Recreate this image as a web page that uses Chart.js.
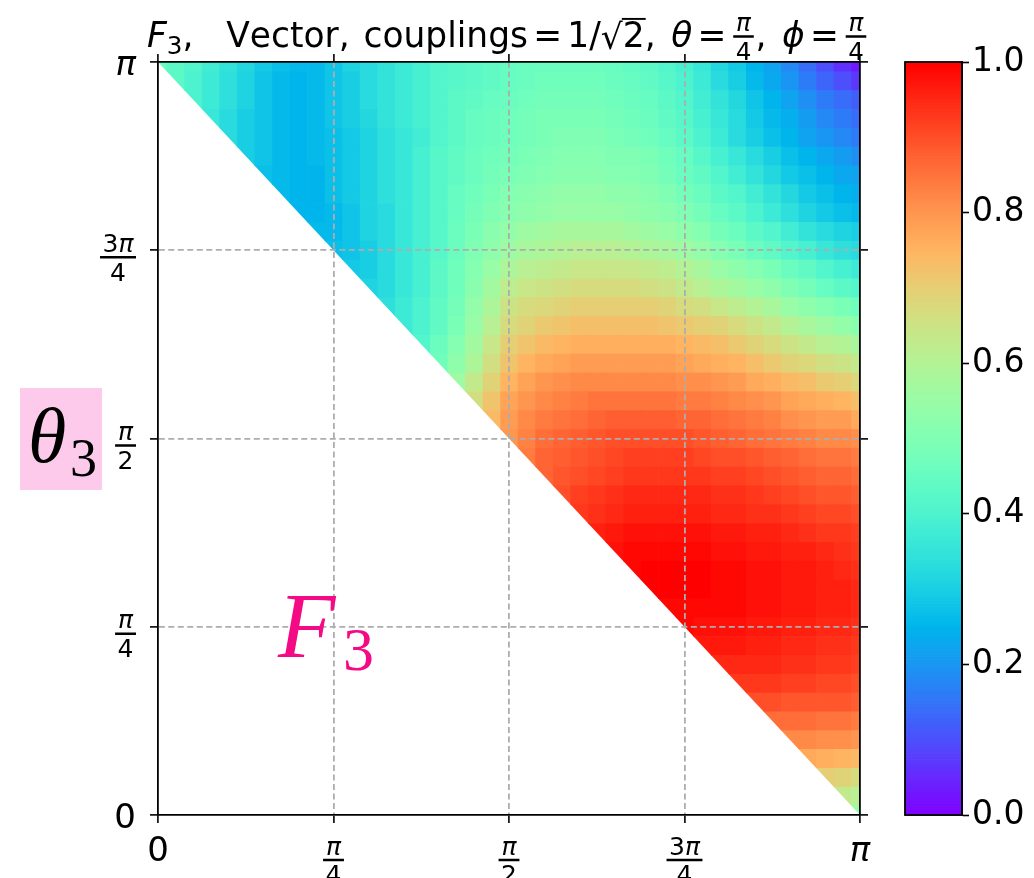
<!DOCTYPE html>
<html>
<head>
<meta charset="utf-8">
<script src="https://cdn.jsdelivr.net/npm/chart.js@4.4.1/dist/chart.umd.min.js"></script>
<style>
  html, body { margin: 0; padding: 0; background: #ffffff; }
  #wrap { position: relative; width: 1034px; height: 878px; overflow: hidden; background: #fff; }
  #main { position: absolute; left: 0; top: 0; }
  #cbar { position: absolute; left: 880px; top: 0; }
</style>
</head>
<body>
<div id="wrap">
  <canvas id="main" width="1034" height="878"></canvas>
  <canvas id="cbar" width="154" height="878"></canvas>
</div>
<script>
// ---------------- DATA ----------------
const N_STEPS = 40;   // grid steps across [0, π] on both axes
const xTickValues = [0, Math.PI / 4, Math.PI / 2, 3 * Math.PI / 4, Math.PI];
const yTickValues = [0, Math.PI / 4, Math.PI / 2, 3 * Math.PI / 4, Math.PI];
const tickLabels = [{ num: '0' }, { num: 'π', den: '4' }, { num: 'π', den: '2' }, { num: '3π', den: '4' }, { num: 'π' }];
const colorbarTicks = [0.0, 0.2, 0.4, 0.6, 0.8, 1.0];
const titleText = 'F3, Vector, couplings = 1/√2, θ = π/4, ϕ = π/4';
const yLabelText = 'θ3';
const annotationText = 'F3';

// F3 values (x100).
// Row r (r = 0 at the top) is at θ3 = (N_STEPS - r)·π/N_STEPS and holds x-indices k = r..N_STEPS.
const f3Rows = [
  [46,43,41,38,35,32,29,27,26,26,28,31,33,35,37,39,41,42,43,44,45,46,46,46,46,46,45,44,43,41,39,36,32,29,25,22,18,14,10,6,3],
  [43,40,37,34,31,28,26,25,26,28,30,33,35,37,39,41,42,43,44,45,46,47,47,47,47,46,45,44,42,40,37,33,30,26,23,20,16,13,10,7],
  [40,37,34,31,28,26,25,26,28,30,33,35,37,39,41,43,44,45,46,47,48,48,48,48,47,46,45,43,41,38,35,32,28,25,22,19,16,14,12],
  [36,33,30,28,26,25,26,28,30,32,35,37,39,41,43,45,46,47,48,49,49,49,49,48,47,46,44,42,39,36,33,29,26,24,21,18,16,14],
  [33,30,28,26,25,26,27,29,31,34,36,38,41,43,45,46,47,48,49,50,50,50,49,48,47,45,43,40,37,33,30,27,25,22,20,18,16],
  [30,28,26,25,26,27,29,31,34,36,39,42,44,46,47,48,49,50,51,51,51,50,50,49,47,45,42,39,36,33,30,27,25,23,21,19],
  [27,26,25,25,27,29,31,34,36,39,42,44,46,48,49,50,51,52,52,52,51,51,50,48,46,44,41,38,35,32,29,27,25,23,22],
  [26,25,25,27,29,31,34,36,39,42,45,47,49,51,52,53,54,54,54,53,53,52,50,48,46,43,41,38,35,32,29,27,25,24],
  [25,25,26,28,31,33,36,39,42,45,48,50,52,53,54,55,55,55,55,54,53,52,50,48,45,43,40,37,34,31,29,27,26],
  [26,26,28,31,33,36,39,42,46,49,52,54,56,57,58,58,58,58,57,56,55,53,51,48,46,43,41,38,35,33,31,30],
  [27,28,30,33,36,39,42,46,50,53,56,58,59,60,61,61,61,60,59,58,56,54,51,49,46,44,41,39,36,34,33],
  [29,30,33,36,39,43,47,51,55,59,61,62,63,64,64,64,64,63,62,60,58,55,53,51,49,46,44,41,39,37],
  [31,33,36,39,43,47,52,57,62,64,65,66,67,67,67,67,66,65,63,61,59,57,55,53,50,48,45,43,41],
  [34,37,40,44,48,54,59,65,67,68,69,70,70,70,70,70,69,67,66,64,62,60,58,55,53,51,49,47],
  [37,40,44,49,55,61,67,69,71,72,73,73,73,73,73,72,71,70,69,67,65,63,60,58,56,54,52],
  [41,46,51,57,64,70,72,74,75,76,76,76,76,76,76,75,74,73,71,69,67,65,63,61,60,58],
  [47,53,59,66,72,75,77,78,79,79,79,79,79,79,78,77,76,75,73,71,69,68,66,65,63],
  [56,63,69,75,78,80,81,82,82,82,82,82,82,81,81,80,79,77,76,74,73,71,70,68],
  [66,72,78,80,82,83,84,85,85,85,85,85,84,84,83,82,81,80,78,77,76,75,73],
  [74,79,82,84,85,86,87,88,88,88,88,87,87,86,85,84,83,81,80,79,79,77],
  [80,83,86,87,88,89,90,90,90,90,90,89,88,87,86,85,84,83,82,82,81],
  [84,87,88,89,90,91,92,92,92,92,91,90,90,89,88,87,86,85,85,84],
  [87,89,90,91,92,93,93,93,93,93,92,92,91,90,89,88,87,87,86],
  [90,92,93,94,95,95,95,95,95,94,94,93,92,91,90,89,89,88],
  [93,94,95,96,96,96,96,96,95,95,94,94,93,92,91,91,90],
  [96,97,98,98,98,98,98,97,97,96,96,95,94,93,93,92],
  [98,99,99,99,99,99,98,98,97,97,96,96,95,94,93],
  [99,100,100,100,100,99,99,98,98,97,97,96,95,94],
  [100,100,100,100,99,99,98,98,97,97,96,96,95],
  [99,99,99,99,99,98,98,97,97,96,96,95],
  [99,98,98,98,97,97,96,96,95,95,94],
  [97,97,97,96,96,95,95,94,94,93],
  [95,95,95,95,94,94,93,93,92],
  [93,93,93,92,92,91,91,90],
  [90,90,89,89,89,89,88],
  [86,86,86,85,85,84],
  [82,82,81,81,80],
  [77,76,75,74],
  [70,69,67],
  [63,61],
  [55]
];

// ---------------- helpers ----------------
function rainbow(t) {          // matplotlib "rainbow" colormap
  t = Math.min(1, Math.max(0, t));
  const r = Math.min(1, Math.abs(2 * t - 0.5));
  const g = Math.min(1, Math.max(0, Math.sin(Math.PI * t)));
  const b = Math.min(1, Math.max(0, Math.cos(Math.PI * t / 2)));
  return 'rgb(' + Math.round(255 * r) + ',' + Math.round(255 * g) + ',' + Math.round(255 * b) + ')';
}

const heatPoints = [];
f3Rows.forEach((row, r) => {
  const m = N_STEPS - r;
  row.forEach((pct, j) => {
    const k = r + j;
    heatPoints.push({ x: k * Math.PI / N_STEPS, y: m * Math.PI / N_STEPS, v: pct / 100 });
  });
});

const SANS = '"DejaVu Sans", "Liberation Sans", sans-serif';
const SERIF = '"Liberation Serif", "DejaVu Serif", serif';
function toRuns(s) { return Array.from(s).map(ch => ({ t: ch, it: /[πθϕF]/.test(ch) })); }
function fontFor(run, size) { return (run.it ? 'italic ' : '') + size + 'px ' + SANS; }
function runsWidth(ctx, runs, size) {
  let w = 0;
  for (const r of runs) { ctx.font = fontFor(r, size); w += ctx.measureText(r.t).width; }
  return w;
}
function drawRuns(ctx, runs, x, y, size) {
  for (const r of runs) { ctx.font = fontFor(r, size); ctx.fillText(r.t, x, y); x += ctx.measureText(r.t).width; }
  return x;
}
function fracWidth(ctx, num, den, size) {
  return Math.max(runsWidth(ctx, toRuns(num), size), runsWidth(ctx, toRuns(den), size)) + size * 0.2;
}
function drawFrac(ctx, cx, barY, num, den, size) {
  const nr = toRuns(num), dr = toRuns(den);
  const nw = runsWidth(ctx, nr, size), dw = runsWidth(ctx, dr, size);
  const bw = Math.max(nw, dw) + size * 0.2;
  const th = Math.max(2, size * 0.1);
  ctx.fillRect(cx - bw / 2, barY - th / 2, bw, th);
  drawRuns(ctx, nr, cx - nw / 2, barY - size * 0.22, size);
  drawRuns(ctx, dr, cx - dw / 2, barY + size * 0.2 + size * 0.73, size);
}

// ---------------- plugins ----------------
const heatmapPlugin = {
  id: 'heatmap',
  beforeDraw(chart) {
    const { ctx } = chart;
    const xs = chart.scales.x, ys = chart.scales.y;
    const h = Math.PI / N_STEPS / 2;
    ctx.save();
    ctx.beginPath();
    ctx.moveTo(xs.getPixelForValue(0), ys.getPixelForValue(Math.PI));
    ctx.lineTo(xs.getPixelForValue(Math.PI), ys.getPixelForValue(Math.PI));
    ctx.lineTo(xs.getPixelForValue(Math.PI), ys.getPixelForValue(0));
    ctx.closePath();
    ctx.clip();
    for (const p of chart.data.datasets[0].data) {
      const x0 = xs.getPixelForValue(Math.max(0, p.x - h));
      const x1 = xs.getPixelForValue(Math.min(Math.PI, p.x + h));
      const y0 = ys.getPixelForValue(Math.min(Math.PI, p.y + h));
      const y1 = ys.getPixelForValue(Math.max(0, p.y - h));
      ctx.fillStyle = rainbow(p.v);
      ctx.fillRect(x0, y0, x1 - x0 + 0.7, y1 - y0 + 0.7);
    }
    ctx.restore();
  }
};

const textPlugin = {
  id: 'texts',
  afterDraw(chart) {
    const { ctx } = chart;
    const xs = chart.scales.x, ys = chart.scales.y;
    ctx.save();
    ctx.fillStyle = '#000';
    ctx.textBaseline = 'alphabetic';
    ctx.textAlign = 'left';

    // y tick labels (left)
    const BIG = 34, FR = 25;
    yTickValues.forEach((v, i) => {
      const lab = tickLabels[i];
      const py = ys.getPixelForValue(v);
      const right = 136;
      if (lab.den) {
        const bw = fracWidth(ctx, lab.num, lab.den, FR);
        drawFrac(ctx, right - bw / 2, py + 7, lab.num, lab.den, FR);
      } else {
        const runs = toRuns(lab.num);
        const w = runsWidth(ctx, runs, BIG);
        drawRuns(ctx, runs, right - w, py + 13, BIG);
      }
    });
    // x tick labels (bottom)
    xTickValues.forEach((v, i) => {
      const lab = tickLabels[i];
      const px = xs.getPixelForValue(v);
      if (lab.den) {
        drawFrac(ctx, px, 860, lab.num, lab.den, FR);
      } else {
        const runs = toRuns(lab.num);
        const w = runsWidth(ctx, runs, BIG);
        drawRuns(ctx, runs, px - w / 2, 861, BIG);
      }
    });

    // title
    const S = 35;
    const items = [
      { type: 'runs', s: titleText.slice(0, 1) },            // F
      { type: 'sub', s: titleText.slice(1, 2) },             // 3
      { type: 'runs', s: ',' },
      { type: 'gap', w: 0.95 },
      { type: 'runs', s: 'Vector,' },
      { type: 'gap', w: 0.4 },
      { type: 'runs', s: 'couplings' },
      { type: 'gap', w: 0.15 },
      { type: 'runs', s: '=' },
      { type: 'gap', w: 0.15 },
      { type: 'runs', s: '1/' },
      { type: 'sqrt', s: '2' },
      { type: 'runs', s: ',' },
      { type: 'gap', w: 0.45 },
      { type: 'runs', s: 'θ' },
      { type: 'gap', w: 0.15 },
      { type: 'runs', s: '=' },
      { type: 'gap', w: 0.15 },
      { type: 'frac', num: 'π', den: '4' },
      { type: 'runs', s: ',' },
      { type: 'gap', w: 0.45 },
      { type: 'runs', s: 'ϕ' },
      { type: 'gap', w: 0.15 },
      { type: 'runs', s: '=' },
      { type: 'gap', w: 0.15 },
      { type: 'frac', num: 'π', den: '4' }
    ];
    function layout(draw, x, base) {
      for (const it of items) {
        if (it.type === 'gap') { x += it.w * S; continue; }
        if (it.type === 'runs') {
          const runs = toRuns(it.s);
          const w = runsWidth(ctx, runs, S);
          if (draw) drawRuns(ctx, runs, x, base, S);
          x += w; continue;
        }
        if (it.type === 'sub') {
          const ss = Math.round(S * 0.7);
          const runs = toRuns(it.s);
          const w = runsWidth(ctx, runs, ss);
          if (draw) drawRuns(ctx, runs, x, base + S * 0.2, ss);
          x += w; continue;
        }
        if (it.type === 'sqrt') {
          ctx.font = S + 'px ' + SANS;
          const rw = ctx.measureText('√').width;
          const dw = ctx.measureText(it.s).width;
          if (draw) {
            ctx.fillText('√', x, base + S * 0.05);
            ctx.fillText(it.s, x + rw, base);
            ctx.fillRect(x + rw - 1, base - S * 0.83, dw + 2, Math.max(1.5, S * 0.055));
          }
          x += rw + dw; continue;
        }
        if (it.type === 'frac') {
          const fs = Math.round(S * 0.72);
          const bw = fracWidth(ctx, it.num, it.den, fs);
          if (draw) drawFrac(ctx, x + bw / 2 + S * 0.05, base - S * 0.3, it.num, it.den, fs);
          x += bw + S * 0.1; continue;
        }
      }
      return x;
    }
    const natural = layout(false, 0, 0);
    const sx = (868 - 147) / natural;
    ctx.save();
    ctx.translate(147, 0);
    ctx.scale(sx, 1);
    layout(true, 0, 47);
    ctx.restore();

    // theta_3 label with pink box
    ctx.fillStyle = '#fdcaec';
    ctx.fillRect(20, 388, 82, 102);
    ctx.fillStyle = '#000';
    ctx.font = 'italic 78px ' + SERIF;
    ctx.fillText(yLabelText.slice(0, 1), 28, 462);
    ctx.font = '54px ' + SERIF;
    ctx.fillText(yLabelText.slice(1), 70, 476);

    // F_3 annotation
    ctx.fillStyle = '#f50a85';
    ctx.font = 'italic 94px ' + SERIF;
    ctx.fillText(annotationText.slice(0, 1), 278, 657);
    ctx.font = '62px ' + SERIF;
    ctx.fillText(annotationText.slice(1), 343, 670);
    ctx.restore();
  }
};

function axisCfg(position, onArea) {
  return {
    type: 'linear',
    position: position,
    min: 0,
    max: Math.PI,
    afterBuildTicks: (a) => { a.ticks = (a.isHorizontal() ? xTickValues : yTickValues).map(v => ({ value: v })); },
    afterFit: (s) => { if (s.isHorizontal()) s.height = 8; else s.width = 8; },
    ticks: { display: false },
    grid: {
      display: true,
      drawOnChartArea: onArea,
      drawTicks: true,
      tickLength: 8,
      tickColor: '#000',
      tickWidth: 1.6,
      lineWidth: 1.8,
      color: (c) => (c.index === 0 || c.index === 4) ? 'rgba(0,0,0,0)' : '#adadad'
    },
    border: { display: true, color: '#000', width: 1.8, dash: [6, 3.5] }
  };
}

new Chart(document.getElementById('main'), {
  type: 'scatter',
  data: { datasets: [{ label: 'F3', data: heatPoints, pointRadius: 0, pointHoverRadius: 0, xAxisID: 'x', yAxisID: 'y' }] },
  options: {
    responsive: false,
    animation: false,
    events: [],
    layout: { padding: { left: 150, right: 166, top: 54, bottom: 55 } },
    plugins: { legend: { display: false }, tooltip: { enabled: false }, title: { display: false } },
    scales: {
      x: axisCfg('bottom', true),
      x2: axisCfg('top', false),
      y: axisCfg('left', true),
      y2: axisCfg('right', false)
    }
  },
  plugins: [heatmapPlugin, textPlugin]
});

// ---------------- colorbar ----------------
const colorbarPlugin = {
  id: 'cbar',
  beforeDraw(chart) {
    const { ctx, chartArea } = chart;
    const ys = chart.scales.y;
    const steps = 256;
    for (let i = 0; i < steps; i++) {
      const v0 = i / steps, v1 = (i + 1) / steps;
      const yTop = ys.getPixelForValue(v1), yBot = ys.getPixelForValue(v0);
      ctx.fillStyle = rainbow((v0 + v1) / 2);
      ctx.fillRect(chartArea.left, yTop, chartArea.right - chartArea.left, yBot - yTop + 0.7);
    }
  },
  afterDraw(chart) {
    const { ctx, chartArea } = chart;
    ctx.save();
    ctx.strokeStyle = '#000';
    ctx.lineWidth = 1.8;
    ctx.strokeRect(chartArea.left, chartArea.top, chartArea.right - chartArea.left, chartArea.bottom - chartArea.top);
    ctx.restore();
  }
};

new Chart(document.getElementById('cbar'), {
  type: 'scatter',
  data: { datasets: [{ data: [], pointRadius: 0 }] },
  options: {
    responsive: false,
    animation: false,
    events: [],
    layout: { padding: { left: 25, top: 62, bottom: 63, right: 0 } },
    plugins: { legend: { display: false }, tooltip: { enabled: false } },
    scales: {
      x: { display: false, min: 0, max: 1 },
      y: {
        position: 'right',
        min: 0,
        max: 1,
        afterBuildTicks: (a) => { a.ticks = colorbarTicks.map(v => ({ value: v })); },
        afterFit: (s) => { s.width = 72; },
        ticks: { callback: (v) => Number(v).toFixed(1), color: '#000', font: { family: 'DejaVu Sans', size: 33 }, padding: 3 },
        grid: { drawOnChartArea: false, drawTicks: true, tickLength: 7, tickColor: '#000', tickWidth: 1.6 },
        border: { display: true, color: '#000', width: 1.8 }
      }
    }
  },
  plugins: [colorbarPlugin]
});
</script>
</body>
</html>
